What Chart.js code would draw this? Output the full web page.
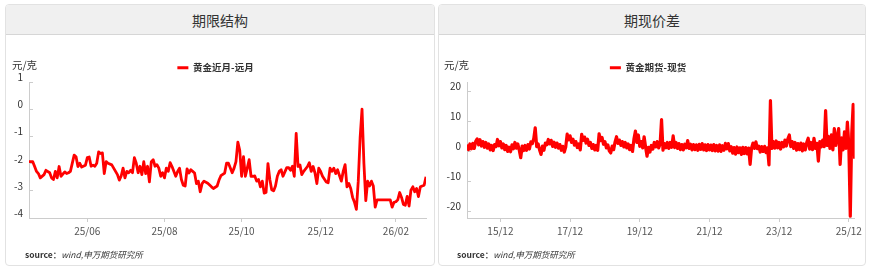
<!DOCTYPE html>
<html>
<head>
<meta charset="utf-8">
<script src="https://cdn.jsdelivr.net/npm/chart.js@4.4.1/dist/chart.umd.min.js"></script>
<style>
body { margin: 0; background: #fff; font-family: "Noto Sans CJK SC", "Noto Sans", sans-serif; }
.card { position: absolute; top: 4px; height: 262px; border: 1px solid #e2e2e2; border-radius: 4px; box-sizing: border-box; background: #fff; overflow: hidden; }
.head { height: 29px; background: #f0f0f0; border-bottom: 1px solid #d6d6d6; text-align: center; line-height: 30px; font-size: 14px; color: #333; }
.unit { position: absolute; top: 59px; font-size: 10.5px; line-height: 12px; color: #333; }
.src { position: absolute; top: 249px; font-size: 8.5px; line-height: 10px; color: #333; }
.src b { font-weight: bold; }
.src i { font-style: italic; }
canvas { position: absolute; top: 35px; }
</style>
</head>
<body>
<div class="card" style="left:5px;width:430px"><div class="head">期限结构</div></div>
<div class="card" style="left:438px;width:428px"><div class="head">期现价差</div></div>
<canvas id="termChart" width="430" height="230" style="left:5px"></canvas>
<canvas id="basisChart" width="427" height="230" style="left:438px"></canvas>
<div class="unit" style="left:12px">元/克</div>
<div class="unit" style="left:444px">元/克</div>
<div class="src" style="left:25px"><b>source：</b><i>wind,申万期货研究所</i></div>
<div class="src" style="left:457px"><b>source：</b><i>wind,申万期货研究所</i></div>
<script>
// 期限结构: trading-day index and spread (元/克)
const termDay = [
  0, 2, 3, 4, 5, 6, 8, 9, 11, 12, 13, 14, 15, 16, 17, 19, 20, 21, 22, 24,
  25, 26, 27, 28, 30, 31, 32, 33, 34, 35, 36, 37, 38, 39, 40, 41, 42, 44, 45, 47,
  48, 49, 50, 51, 52, 53, 54, 55, 56, 57, 58, 59, 60, 61, 62, 63, 64, 65, 66, 67,
  68, 69, 70, 71, 72, 73, 74, 75, 76, 78, 79, 80, 81, 82, 83, 84, 85, 86, 87, 88,
  89, 90, 91, 92, 93, 95, 97, 98, 100, 101, 102, 104, 105, 106, 108, 109, 110, 111, 112, 113,
  114, 115, 116, 117, 118, 119, 120, 121, 122, 123, 124, 125, 126, 127, 128, 129, 130, 131, 132, 133,
  134, 135, 136, 137, 138, 139, 140, 141, 142, 143, 144, 145, 146, 148, 149, 150, 151, 152, 153, 154,
  155, 156, 158, 159, 160, 161, 162, 163, 164, 165, 166, 167, 168, 169, 170, 171, 172, 173, 174, 175,
  176, 177, 178, 179, 180, 181, 182, 183, 184, 185, 192, 193, 194, 195, 196, 197, 198, 199, 200, 201,
  202, 203, 204, 205, 206, 207, 208, 209, 210, 211
];
const termValue = [
  -1.92, -1.92, -2.10, -2.28, -2.36, -2.52, -2.40, -2.24, -2.33, -2.52, -2.58, -2.28, -2.52, -2.10, -2.46, -2.30, -2.36, -2.33, -2.28, -1.68,
  -1.74, -2.10, -1.98, -2.12, -2.05, -1.77, -1.75, -2.09, -2.05, -2.09, -1.98, -1.56, -1.62, -1.60, -2.36, -1.92, -1.98, -2.04, -2.16, -2.40,
  -2.60, -2.45, -2.16, -2.52, -2.28, -2.33, -2.24, -2.33, -1.77, -1.98, -2.33, -2.09, -2.40, -1.92, -2.36, -2.09, -2.67, -1.92, -1.85, -2.09,
  -2.03, -2.16, -2.46, -2.33, -2.52, -2.16, -2.28, -1.96, -2.10, -2.46, -2.28, -2.16, -2.58, -2.79, -2.82, -2.19, -2.34, -2.22, -2.28, -2.34,
  -2.73, -2.64, -3.03, -2.73, -2.64, -2.72, -2.85, -2.91, -2.82, -2.60, -2.44, -2.34, -1.98, -1.98, -2.33, -2.16, -1.92, -1.20, -1.50, -2.46,
  -1.74, -2.46, -2.16, -1.85, -2.46, -2.46, -2.45, -2.64, -2.58, -2.85, -2.64, -3.08, -3.06, -1.99, -2.58, -2.96, -3.00, -2.82, -2.46, -2.28,
  -2.22, -2.46, -2.30, -2.14, -2.14, -2.24, -2.09, -2.46, -0.88, -2.10, -2.04, -2.40, -2.28, -2.10, -1.96, -2.28, -2.10, -2.34, -2.73, -2.16,
  -2.28, -2.46, -2.67, -2.70, -2.16, -2.28, -2.16, -2.36, -2.22, -2.43, -2.64, -2.28, -2.03, -2.85, -2.73, -2.91, -3.24, -3.42, -3.68, -2.64,
  -1.02, 0.02, -1.98, -3.36, -2.64, -2.82, -2.64, -2.82, -3.60, -3.33, -3.33, -3.60, -3.42, -3.40, -3.33, -3.06, -3.24, -3.50, -3.53, -3.20,
  -3.56, -2.97, -2.85, -3.03, -2.91, -3.21, -2.85, -2.82, -2.79, -2.48
];
const termTickDay = [31, 72, 113, 155, 195];
const termTickLabel = ['25/06', '25/08', '25/10', '25/12', '26/02'];

// 期现价差: half-month samples from Dec 2014 (month -0.5) onward
const basisStart = -0.5;
const basisStep = 0.5;
const basisValue = [
  2.3, 0.6, 2.5, 0.9, 2.7, 1.0, 3.4, 4.2, 2.2, 3.9, 1.8, 3.3, 1.4, 3.0, 1.1, 2.5, 0.5, 2.0, 0.3, 2.3, 1.6, 4.0, 1.9, 3.3,
  1.2, 2.5, 0.6, 2.0, 0.0, 1.4, -0.1, 2.2, 0.9, 3.0, 1.1, 2.5, 0.4, -2.1, 1.8, 0.3, 2.0, 0.4, 2.3, 0.8, 3.2, 2.6, 4.3, 7.9,
  1.6, 2.5, 0.5, -1.0, 1.8, 0.4, 2.8, 2.2, 4.0, 2.5, 3.7, 1.7, 3.1, 1.4, 2.8, 1.1, 2.3, 0.4, 1.7, -0.2, 1.5, 5.8, 3.9, 5.2,
  3.0, 4.1, 2.1, 3.3, 1.3, 2.5, 0.5, 5.7, 3.7, 4.8, 2.8, 4.1, 2.0, 3.0, 1.0, 2.3, 0.5, 2.0, 0.4, 5.9, 3.6, 4.7, 2.4, 3.3,
  1.2, 2.2, 0.2, -0.5, 1.8, 0.6, 3.2, 4.9, 2.7, 3.8, 2.0, 3.3, 1.5, 3.0, 1.2, 2.5, 0.6, 2.0, 0.0, 4.2, 6.8, 3.0, 5.5, 1.7,
  3.3, 1.2, 4.9, 1.5, -1.6, 1.4, -0.2, 2.0, 0.8, 3.0, 1.5, 3.3, 1.2, 2.4, 10.6, 0.4, 2.6, 1.2, 3.0, 1.0, 3.0, 1.4, 5.2, 1.3,
  3.0, 1.0, 2.6, 0.6, 2.3, 0.5, 2.4, 1.2, 3.6, 1.0, 2.4, 0.5, 2.3, 0.6, 2.2, 0.4, 2.4, 0.7, 2.6, 0.5, 2.2, 0.3, 2.3, 0.5,
  2.1, 0.3, 2.3, 0.2, 2.0, 0.1, 2.2, 0.0, 1.9, 0.4, 2.7, 0.9, 2.6, 0.2, 1.6, -0.6, 1.3, -0.9, 1.5, -0.4, 1.2, -1.0, 1.4, -0.7,
  1.3, -0.8, 1.1, -4.3, 1.2, 2.8, 1.0, 3.2, 0.9, 1.8, -0.2, 1.6, 0.0, 1.7, -0.4, 1.2, -4.5, 17.0, 1.0, 3.3, 1.1, 3.5, 1.2, 3.0,
  0.8, 3.0, 1.5, 3.8, 1.8, 4.2, 5.5, 1.6, 3.3, 1.0, 3.0, 0.4, 2.6, 0.6, 2.8, 0.2, 2.5, 0.5, 3.0, 4.4, 0.8, 3.0, 0.6, 4.4,
  1.0, 2.7, -3.2, 3.3, 1.5, 3.8, 1.6, 13.6, 2.0, 5.0, 1.0, 5.5, 0.5, 7.6, 2.0, 5.0, 7.6, -4.3, 4.5, 0.5, 6.5, 1.0, 9.8, 2.0,
  -21.6, 6.0, 15.7, -2.4
];
const basisTickMonth = [11, 35, 59, 83, 107, 131];
const basisTickLabel = ['15/12', '17/12', '19/12', '21/12', '23/12', '25/12'];

const FONT = '"Noto Sans CJK SC", "Noto Sans", sans-serif';

function makeChart(id, cfg) {
    const ctx = document.getElementById(id).getContext('2d');
    return new Chart(ctx, {
        type: 'line',
        data: {
            datasets: [{
                label: cfg.label,
                data: cfg.points,
                borderColor: '#ff0000',
                backgroundColor: '#ff0000',
                borderWidth: cfg.lineWidth,
                borderJoinStyle: 'round',
                pointRadius: 0,
                tension: 0
            }]
        },
        options: {
            responsive: false,
            animation: false,
            layout: { padding: { left: 0, right: cfg.padRight, top: 22, bottom: 0 } },
            plugins: {
                legend: {
                    position: 'top',
                    labels: {
                        usePointStyle: true,
                        pointStyle: 'line',
                        pointStyleWidth: 11,
                        padding: 6,
                        color: '#333',
                        font: { family: FONT, size: 9.5, weight: 'bold' }
                    }
                },
                tooltip: { enabled: false }
            },
            scales: {
                x: {
                    type: 'linear',
                    min: cfg.xMin,
                    max: cfg.xMax,
                    afterBuildTicks: scale => {
                        scale.ticks = cfg.tickValues.map(v => ({ value: v }));
                    },
                    afterFit: scale => { scale.height = 47; },
                    ticks: {
                        autoSkip: false,
                        maxRotation: 0,
                        padding: 3,
                        color: '#555',
                        font: { family: FONT, size: 10 },
                        callback: (value, index) => cfg.tickLabels[index]
                    },
                    grid: { drawOnChartArea: false, tickLength: 4, color: '#ccc' },
                    border: { color: '#ccc' }
                },
                y: {
                    min: cfg.yMin,
                    max: cfg.yMax,
                    afterFit: scale => { scale.width = cfg.yWidth; },
                    ticks: {
                        stepSize: cfg.yStep,
                        includeBounds: false,
                        padding: 10,
                        labelOffset: -5,
                        color: '#333',
                        font: { family: FONT, size: 10 }
                    },
                    grid: { drawOnChartArea: false, tickLength: -4, color: '#ccc' },
                    border: { color: '#ccc' }
                }
            }
        }
    });
}

makeChart('termChart', {
    label: '黄金近月-远月',
    points: termDay.map((d, i) => ({ x: d, y: termValue[i] })),
    xMin: 0, xMax: 211,
    tickValues: termTickDay, tickLabels: termTickLabel,
    yMin: -4, yMax: 1, yStep: 1,
    yWidth: 24, padRight: 9, lineWidth: 2.8
});

makeChart('basisChart', {
    label: '黄金期货-现货',
    points: basisValue.map((v, i) => ({ x: basisStart + i * basisStep, y: v })),
    xMin: -0.5, xMax: 133,
    tickValues: basisTickMonth, tickLabels: basisTickLabel,
    yMin: -22.2, yMax: 23, yStep: 10,
    yWidth: 29, padRight: 7, lineWidth: 3.2
});
</script>
</body>
</html>
